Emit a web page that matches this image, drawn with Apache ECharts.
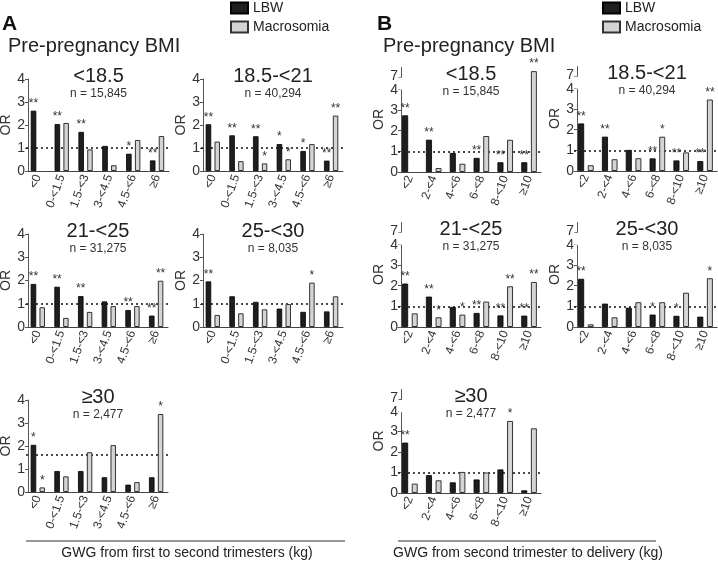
<!DOCTYPE html>
<html><head><meta charset="utf-8">
<script src="https://cdn.jsdelivr.net/npm/echarts@6/dist/echarts.min.js"></script>
<style>html,body{margin:0;padding:0;background:#fff}#c{width:718px;height:568px}</style>
</head><body><div id="c"></div>
<script>
// ---------- DATA ----------
const gwgA = ['<0', '0-<1.5', '1.5-<3', '3-<4.5', '4.5-<6', '≥6'];
const gwgB = ['<2', '2-<4', '4-<6', '6-<8', '8-<10', '≥10'];
const bmiGroups = ['<18.5', '18.5-<21', '21-<25', '25-<30', '≥30'];
const nLabels = ['n = 15,845', 'n = 40,294', 'n = 31,275', 'n = 8,035', 'n = 2,477'];
const seriesNames = ['LBW', 'Macrosomia'];

// Panel A: GWG from first to second trimesters
const aLbw1 = [2.62, 2.04, 1.70, 1.09, 0.75, 0.46];
const aMac1 = [null, 2.09, 0.94, 0.25, 1.35, 1.52];
const aLbw2 = [2.03, 1.55, 1.51, 1.17, 0.87, 0.45];
const aMac2 = [1.28, 0.43, 0.33, 0.51, 1.17, 2.41];
const aLbw3 = [1.85, 1.73, 1.33, 1.10, 0.73, 0.49];
const aMac3 = [0.85, 0.39, 0.65, 0.90, 0.90, 1.99];
const aLbw4 = [1.96, 1.32, 1.08, 0.79, 0.65, 0.67];
const aMac4 = [0.52, 0.59, 0.76, 0.99, 1.91, 1.32];
const aLbw5 = [2.05, 0.91, 0.91, 0.64, 0.32, 0.64];
const aMac5 = [0.20, 0.68, 1.73, 2.04, 0.43, 3.39];
const aSigLbw = [
  ['**', '**', '**', '', '*', '**'],
  ['**', '**', '**', '*', '*', '**'],
  ['**', '**', '**', '', '**', '**'],
  ['**', '', '', '', '', ''],
  ['*', '', '', '', '', '']
];
const aSigMac = [
  ['', '', '', '', '', ''],
  ['', '', '*', '*', '', '**'],
  ['', '', '', '', '', '**'],
  ['', '', '', '', '*', ''],
  ['*', '', '', '', '', '*']
];
const aRefLine = [1, 1, 1, 1, 1.6];

// Panel B: GWG from second trimester to delivery
const bLbw1 = [2.74, 1.56, 0.92, 0.68, 0.47, 0.47];
const bMac1 = [null, 0.19, 0.40, 1.74, 1.56, 7.3];
const bLbw2 = [2.30, 1.66, 1.02, 0.61, 0.51, 0.48];
const bMac2 = [0.28, 0.57, 0.62, 1.66, 0.90, 3.46];
const bLbw3 = [2.10, 1.47, 0.97, 0.68, 0.56, 0.55];
const bMac3 = [0.66, 0.47, 0.60, 1.23, 1.97, 2.18];
const bLbw4 = [2.33, 1.13, 0.93, 0.60, 0.54, 0.50];
const bMac4 = [0.13, 0.47, 1.20, 1.20, 1.66, 2.36];
const bLbw5 = [2.46, 0.87, 0.52, 0.66, 1.15, 0.13];
const bMac5 = [0.46, 0.62, 1.03, 1.00, 3.52, 3.16];
const bSigLbw = [
  ['**', '**', '', '**', '**', '**'],
  ['**', '**', '', '**', '**', '**'],
  ['**', '**', '', '**', '**', '**'],
  ['**', '', '', '*', '*', ''],
  ['**', '', '', '', '', '']
];
const bSigMac = [
  ['', '', '', '', '', '**'],
  ['', '', '', '*', '', '**'],
  ['', '*', '*', '', '**', '**'],
  ['', '', '', '', '', '*'],
  ['', '', '', '', '*', '']
];
const bRefLine = [1, 1, 1, 1, 1];
const yTicksA = [0, 1, 2, 3, 4];
const yBreakB = [4, 7];

// ---------- LAYOUT ----------
const FONT = '"Liberation Sans", Arial, Helvetica, sans-serif';
// [axisX, rightX, topY, zeroY]
const layoutA = [[28, 169, 79, 171], [203, 343, 79, 171], [28, 168, 234, 327], [203, 343, 234, 327], [28, 168, 400, 492]];
const layoutB = [[401, 541, 67, 172], [577, 717, 66, 171], [401, 541, 222, 327], [577, 717, 222, 327], [401, 541, 389, 493]];

const panels = [];
const aL = [aLbw1, aLbw2, aLbw3, aLbw4, aLbw5], aM = [aMac1, aMac2, aMac3, aMac4, aMac5];
const bL = [bLbw1, bLbw2, bLbw3, bLbw4, bLbw5], bM = [bMac1, bMac2, bMac3, bMac4, bMac5];
for (let i = 0; i < 5; i++) panels.push({ kind: 'A', cats: gwgA, lbw: aL[i], mac: aM[i], sl: aSigLbw[i], sm: aSigMac[i], ref: aRefLine[i], lay: layoutA[i], title: bmiGroups[i], n: nLabels[i] });
for (let i = 0; i < 5; i++) panels.push({ kind: 'B', cats: gwgB, lbw: bL[i], mac: bM[i], sl: bSigLbw[i], sm: bSigMac[i], ref: bRefLine[i], lay: layoutB[i], title: bmiGroups[i], n: nLabels[i] });

const grid = [], xAxis = [], yAxis = [], series = [], graphic = [];
panels.forEach((p, i) => {
  const [ax, rx, ty, zy] = p.lay;
  const s = p.kind === 'A' ? 2 : 3;
  grid.push({ left: ax - s, top: ty, width: rx - ax + s, height: zy - ty, containLabel: false, outerBoundsMode: 'none' });
  xAxis.push({
    type: 'category', gridIndex: i, data: p.cats,
    axisLine: { show: true, lineStyle: { color: '#444', width: 1 } },
    axisTick: { show: false },
    axisLabel: { interval: 0, rotate: 70, fontSize: 12, color: '#333', margin: 4, fontFamily: FONT }
  });
  const y = {
    type: 'value', gridIndex: i, min: 0, max: p.kind === 'A' ? yTicksA[yTicksA.length - 1] : 7.5, interval: 1,
    offset: -s,
    axisLine: { show: true, lineStyle: { color: '#555', width: 1 } },
    axisTick: { show: true, length: 3, lineStyle: { color: '#555' } },
    splitLine: { show: false },
    axisLabel: { fontSize: 14, color: '#333', margin: 3, fontFamily: FONT, formatter: v => Number.isInteger(v) ? String(v) : '' },
    name: 'OR', nameLocation: 'middle', nameGap: 13, nameRotate: 90,
    nameTextStyle: { fontSize: 14, color: '#333', fontFamily: FONT }
  };
  if (p.kind === 'B') {
    y.breaks = [{ start: yBreakB[0], end: yBreakB[1], gap: 0.58 }];
    y.breakArea = { show: true, itemStyle: { color: '#fff', borderColor: '#444', borderWidth: 0, opacity: 1 }, zigzagAmplitude: 1, zigzagZ: 1, expandOnClick: false };
  }
  yAxis.push(y);
  const bw = p.kind === 'A' ? 5.5 : 6;
  const lab = (arr) => ({ show: true, position: 'top', distance: 1, fontSize: 12, color: '#333', fontFamily: FONT, formatter: q => arr[q.dataIndex] || '' });
  series.push({
    name: seriesNames[0], type: 'bar', xAxisIndex: i, yAxisIndex: i, data: p.lbw, barWidth: bw, barGap: '60%', z: 200,
    itemStyle: { color: '#1e1e1e', borderColor: '#000', borderWidth: 0.8 },
    label: lab(p.sl),
    markLine: { silent: true, symbol: 'none', label: { show: false }, lineStyle: { type: [2, 3], color: '#111', width: 1.5 }, data: [{ yAxis: p.ref }], animation: false }
  });
  series.push({
    name: seriesNames[1], type: 'bar', xAxisIndex: i, yAxisIndex: i, data: p.mac, barWidth: bw, barGap: '60%', z: 200,
    itemStyle: { color: '#d4d4d4', borderColor: '#333', borderWidth: 1 },
    label: lab(p.sm)
  });
  const cx = (ax + rx) / 2;
  const refTop = p.kind === 'A' ? ty : ty + 10;
  graphic.push({ type: 'text', zlevel: 1, z: 100, x: cx, y: refTop - 3, style: { text: p.title, fill: '#222', fontSize: 20, fontFamily: FONT, align: 'center', verticalAlign: 'middle' } });
  graphic.push({ type: 'text', zlevel: 1, z: 100, x: cx, y: refTop + 15, style: { text: p.n, fill: '#333', fontSize: 12, fontFamily: FONT, align: 'center', verticalAlign: 'middle' } });
});

// headers and footers
graphic.push({ type: 'text', z: 100, x: 2, y: 24, style: { text: 'A', fill: '#111', fontSize: 21, fontWeight: 'bold', fontFamily: FONT, align: 'left', verticalAlign: 'middle' } });
graphic.push({ type: 'text', z: 100, x: 377, y: 24, style: { text: 'B', fill: '#111', fontSize: 21, fontWeight: 'bold', fontFamily: FONT, align: 'left', verticalAlign: 'middle' } });
graphic.push({ type: 'text', z: 100, x: 8, y: 46, style: { text: 'Pre-pregnancy BMI', fill: '#222', fontSize: 20, fontFamily: FONT, align: 'left', verticalAlign: 'middle' } });
graphic.push({ type: 'text', z: 100, x: 383, y: 46, style: { text: 'Pre-pregnancy BMI', fill: '#222', fontSize: 20, fontFamily: FONT, align: 'left', verticalAlign: 'middle' } });
graphic.push({ type: 'line', shape: { x1: 26, y1: 541, x2: 345, y2: 541 }, style: { stroke: '#333', lineWidth: 1 } });
graphic.push({ type: 'line', shape: { x1: 398, y1: 541, x2: 656, y2: 541 }, style: { stroke: '#333', lineWidth: 1 } });
graphic.push({ type: 'text', z: 100, x: 187, y: 553, style: { text: 'GWG from first to second trimesters (kg)', fill: '#222', fontSize: 14, fontFamily: FONT, align: 'center', verticalAlign: 'middle' } });
graphic.push({ type: 'text', z: 100, x: 528, y: 553, style: { text: 'GWG from second trimester to delivery (kg)', fill: '#222', fontSize: 14, fontFamily: FONT, align: 'center', verticalAlign: 'middle' } });

const legendBase = { data: seriesNames, orient: 'vertical', top: 1, itemWidth: 17, itemHeight: 11, itemGap: 5, padding: 0, icon: 'rect', textStyle: { fontSize: 14, color: '#222', fontFamily: FONT }, selectedMode: false };
const legend = [Object.assign({ left: 230 }, legendBase), Object.assign({ left: 602 }, legendBase)];

const chart = echarts.init(document.getElementById('c'), null, { renderer: 'canvas' });
chart.setOption({ animation: false, backgroundColor: '#fff', grid, xAxis, yAxis, series, legend, graphic });
</script></body></html>
